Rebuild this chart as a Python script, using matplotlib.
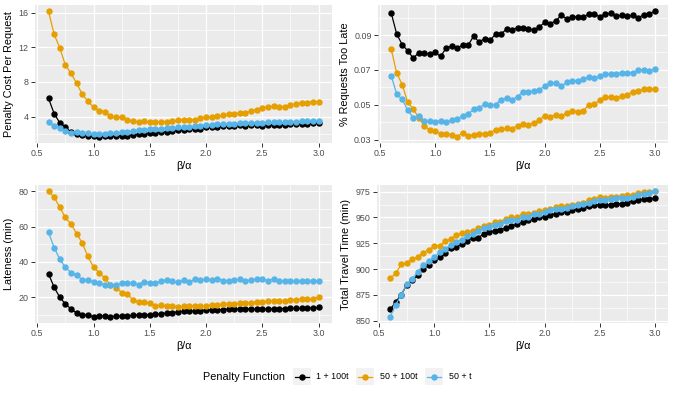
import numpy as np
import matplotlib
matplotlib.use("Agg")
import matplotlib.pyplot as plt
from matplotlib.lines import Line2D
from matplotlib.patches import Rectangle
from matplotlib.ticker import MultipleLocator, FixedLocator

plt.rcParams['font.family'] = ['Liberation Sans', 'DejaVu Sans']

ratio = [round(0.6 + 0.05 * i, 2) for i in range(49)]

series_names = ["1 + 100t", "50 + 100t", "50 + t"]
series_colors = ["#000000", "#E69F00", "#56B4E9"]

# Penalty Cost Per Request
penalty_black = [6.12, 4.35, 3.30, 2.84, 2.19, 1.95, 1.90, 1.80, 1.72, 1.68, 1.72, 1.72, 1.76, 1.80, 1.80,
                 1.88, 1.95, 2.03, 2.07, 2.11, 2.19, 2.26, 2.30, 2.42, 2.50, 2.53, 2.53, 2.61, 2.76, 2.80,
                 2.84, 2.88, 2.92, 2.96, 3.00, 2.96, 3.00, 3.03, 2.96, 3.03, 3.07, 3.07, 3.07, 3.11, 3.15,
                 3.11, 3.15, 3.22, 3.30]
penalty_orange = [16.16, 13.5, 11.95, 9.95, 8.98, 7.86, 6.59, 5.78, 5.08, 4.69, 4.58, 4.12, 3.92, 3.92, 3.58,
                  3.50, 3.38, 3.46, 3.38, 3.38, 3.42, 3.42, 3.46, 3.58, 3.61, 3.61, 3.65, 3.80, 3.96, 3.96,
                  4.08, 4.15, 4.27, 4.34, 4.38, 4.42, 4.66, 4.81, 5.04, 5.16, 5.19, 5.16, 5.16, 5.35, 5.50,
                  5.58, 5.62, 5.70, 5.74]
penalty_blue = [3.42, 2.88, 2.69, 2.38, 2.15, 2.19, 2.07, 2.07, 2.03, 2.03, 2.03, 2.07, 2.07, 2.19, 2.26,
                2.34, 2.46, 2.50, 2.53, 2.57, 2.61, 2.65, 2.69, 2.76, 2.80, 2.84, 2.88, 2.96, 3.03, 3.07,
                3.11, 3.11, 3.15, 3.19, 3.22, 3.26, 3.26, 3.30, 3.30, 3.34, 3.34, 3.34, 3.34, 3.38, 3.38,
                3.46, 3.46, 3.50, 3.54]

# % Requests Too Late
late_black = [0.1027, 0.0906, 0.0845, 0.0810, 0.0768, 0.0797, 0.0799, 0.0789, 0.0800, 0.0777, 0.0825, 0.0837,
              0.0827, 0.0841, 0.0841, 0.0893, 0.0860, 0.0879, 0.0871, 0.0904, 0.0904, 0.0935, 0.0931, 0.0942,
              0.0942, 0.0935, 0.0929, 0.0948, 0.0973, 0.0965, 0.0983, 0.1013, 0.0992, 0.1004, 0.1004, 0.1004,
              0.1021, 0.1019, 0.1004, 0.1021, 0.1025, 0.1010, 0.1013, 0.1008, 0.1012, 0.0998, 0.1017, 0.1021,
              0.1036]
late_orange = [0.0820, 0.0682, 0.0616, 0.0515, 0.0476, 0.0427, 0.0381, 0.0356, 0.0348, 0.0335, 0.0333, 0.0329,
               0.0317, 0.0340, 0.0321, 0.0329, 0.0335, 0.0333, 0.0338, 0.0358, 0.0360, 0.0365, 0.0363, 0.0381,
               0.0388, 0.0386, 0.0396, 0.0415, 0.0438, 0.0430, 0.0444, 0.0436, 0.0453, 0.0465, 0.0461, 0.0467,
               0.0500, 0.0502, 0.0530, 0.0547, 0.0547, 0.0540, 0.0549, 0.0559, 0.0574, 0.0580, 0.0588, 0.0593,
               0.0590]
late_blue = [0.0666, 0.0563, 0.0532, 0.0469, 0.0427, 0.0436, 0.0405, 0.0407, 0.0402, 0.0409, 0.0400, 0.0413,
             0.0417, 0.0438, 0.0446, 0.0475, 0.0482, 0.0503, 0.0499, 0.0501, 0.0530, 0.0538, 0.0530, 0.0547,
             0.0576, 0.0576, 0.0578, 0.0586, 0.0609, 0.0624, 0.0624, 0.0609, 0.0628, 0.0639, 0.0639, 0.0647,
             0.0662, 0.0651, 0.0666, 0.0678, 0.0678, 0.0678, 0.0682, 0.0682, 0.0683, 0.0697, 0.0701, 0.0693,
             0.0708]

# Lateness (min)
lateness_black = [33.3, 25.7, 20.0, 16.2, 13.4, 11.1, 10.1, 10.1, 9.0, 9.6, 9.2, 9.0, 9.4, 9.4, 9.2,
                  9.8, 10.1, 10.1, 10.2, 10.3, 10.7, 11.1, 11.3, 11.8, 12.0, 12.0, 12.4, 12.4, 12.6, 12.8,
                  13.0, 13.0, 13.4, 13.2, 13.2, 13.4, 13.4, 13.2, 13.2, 13.4, 13.4, 13.6, 13.6, 13.7, 13.7,
                  13.7, 13.9, 13.9, 14.3]
lateness_orange = [80.0, 76.7, 70.9, 65.2, 61.4, 56.1, 50.7, 43.1, 37.1, 33.9, 30.8, 27.2, 25.5, 22.7, 21.7,
                   18.7, 17.2, 17.3, 16.6, 15.1, 15.4, 15.3, 15.3, 14.5, 15.1, 15.1, 14.9, 15.1, 15.3, 15.5,
                   15.6, 16.0, 16.2, 16.3, 16.6, 17.0, 17.0, 17.3, 17.5, 17.7, 17.9, 17.9, 17.7, 18.3, 18.7,
                   19.0, 18.8, 19.0, 20.0]
lateness_blue = [56.8, 48.1, 41.6, 36.9, 34.0, 32.5, 29.9, 29.9, 28.7, 28.0, 27.0, 27.2, 27.0, 28.0, 28.3,
                 28.1, 27.2, 28.9, 28.3, 28.0, 29.1, 29.9, 29.1, 28.5, 29.7, 28.5, 30.2, 29.7, 30.2, 29.7,
                 30.6, 29.5, 29.5, 29.7, 30.2, 29.5, 29.7, 30.2, 30.4, 29.3, 30.4, 29.3, 29.3, 29.1, 29.3,
                 29.3, 29.1, 29.1, 29.5]

# Total Travel Time (min)
travel_black = [861.0, 868.2, 875.3, 884.7, 889.3, 893.8, 899.7, 904.2, 908.4, 911.4, 915.3, 920.5, 921.1,
                924.4, 927.6, 930.2, 930.5, 934.1, 935.7, 937.3, 938.3, 939.6, 941.9, 943.2, 945.8, 947.7,
                948.4, 950.0, 950.3, 952.3, 953.6, 954.9, 955.2, 956.8, 957.8, 959.4, 960.7, 962.0, 962.3,
                962.3, 962.0, 963.3, 963.3, 964.3, 965.9, 967.2, 967.5, 967.9, 968.5]
travel_orange = [891.2, 895.8, 904.5, 906.2, 909.7, 912.0, 915.9, 918.8, 922.1, 922.7, 927.3, 928.9, 933.1,
                 935.0, 935.7, 937.0, 939.3, 941.6, 942.9, 945.1, 945.8, 948.7, 950.0, 950.3, 952.9, 952.9,
                 954.5, 955.8, 956.8, 958.4, 959.7, 960.7, 961.4, 962.3, 963.3, 964.3, 966.6, 967.5, 970.1,
                 969.2, 970.1, 970.1, 970.8, 971.4, 972.1, 973.4, 974.4, 974.7, 975.3]
travel_blue = [853.9, 865.6, 875.3, 885.4, 890.6, 897.4, 904.2, 907.5, 912.0, 916.2, 919.5, 923.7, 926.3,
               928.6, 931.8, 933.8, 937.0, 939.3, 940.9, 942.5, 943.5, 946.1, 947.1, 947.7, 950.0, 950.6,
               952.9, 953.6, 955.2, 956.8, 957.8, 958.4, 959.4, 960.7, 961.7, 962.7, 964.3, 965.6, 966.9,
               966.9, 967.9, 968.5, 968.8, 969.2, 970.1, 971.7, 973.0, 973.7, 975.3]

panels = [
    ("Penalty Cost Per Request", [penalty_black, penalty_orange, penalty_blue], [4, 8, 12, 16], "{:.0f}"),
    ("% Requests Too Late", [late_black, late_orange, late_blue], [0.03, 0.05, 0.07, 0.09], "{:.2f}"),
    ("Lateness (min)", [lateness_black, lateness_orange, lateness_blue], [20, 40, 60, 80], "{:.0f}"),
    ("Total Travel Time (min)", [travel_black, travel_orange, travel_blue], [850, 875, 900, 925, 950, 975], "{:.0f}"),
]

W, H = 675, 394
fig = plt.figure(figsize=(W / 100, H / 100), dpi=100)

# pixel boxes: left, right, top, bottom
boxes = [(35, 332, 5, 143), (378, 668, 5, 143), (35, 332, 185, 323), (377, 668, 185, 323)]

x_ticks = [0.5, 1.0, 1.5, 2.0, 2.5, 3.0]
bg = "#EBEBEB"

for (ylabel, ys, yticks, fmt), (l, r, t, b) in zip(panels, boxes):
    ax = fig.add_axes([l / W, 1 - b / H, (r - l) / W, (b - t) / H])
    ax.set_facecolor(bg)
    for s in ax.spines.values():
        s.set_visible(False)
    for vals, col in zip(ys, series_colors):
        ax.plot(ratio, vals, color=col, lw=0.9, marker="o", ms=3.6, mec=col, mfc=col, zorder=3)
    xr = max(ratio) - min(ratio)
    ax.set_xlim(min(ratio) - 0.05 * xr, max(ratio) + 0.05 * xr)
    allv = [v for s in ys for v in s]
    yr = max(allv) - min(allv)
    ax.set_ylim(min(allv) - 0.05 * yr, max(allv) + 0.05 * yr)
    ax.xaxis.set_major_locator(FixedLocator(x_ticks))
    ax.set_xticklabels([f"{v:.1f}" for v in x_ticks])
    ax.yaxis.set_major_locator(FixedLocator(yticks))
    ax.set_yticklabels([fmt.format(v) for v in yticks])
    step = yticks[1] - yticks[0]
    minor_y = [yticks[0] - step / 2] + [v + step / 2 for v in yticks]
    ax.yaxis.set_minor_locator(FixedLocator(minor_y))
    ax.xaxis.set_minor_locator(FixedLocator([v + 0.25 for v in [0.0] + x_ticks]))
    ax.grid(which="major", color="white", lw=0.9)
    ax.grid(which="minor", color="white", lw=0.45)
    ax.set_axisbelow(True)
    ax.tick_params(which="major", length=2.8, width=0.7, color="#333333", labelcolor="#4D4D4D",
                   labelsize=6.4, pad=1.8)
    ax.tick_params(which="minor", length=0)
    ax.set_ylabel(ylabel, fontsize=7.8, color="black", labelpad=3)
    ax.set_xlabel("β/α", fontsize=7.8, color="black", labelpad=2)

# Legend drawn at bottom
ly = 376.5
fig.text(203 / W, 1 - ly / H, "Penalty Function", fontsize=7.8, va="center", ha="left")
key_lefts = [293, 356, 425]
text_lefts = [316.5, 380, 449]
ks = 17.5
for kl, tl, name, col in zip(key_lefts, text_lefts, series_names, series_colors):
    rect = Rectangle((kl / W, 1 - (ly + ks / 2) / H), ks / W, ks / H, transform=fig.transFigure,
                     facecolor="#F2F2F2", edgecolor="none")
    fig.add_artist(rect)
    ln = Line2D([(kl + 1.5) / W, (kl + ks - 1.5) / W], [1 - ly / H, 1 - ly / H], transform=fig.transFigure,
                color=col, lw=0.9)
    fig.add_artist(ln)
    mk = Line2D([(kl + ks / 2) / W], [1 - ly / H], transform=fig.transFigure, color=col, marker="o",
                ms=3.6, lw=0)
    fig.add_artist(mk)
    fig.text(tl / W, 1 - ly / H, name, fontsize=6.4, va="center", ha="left")

fig.savefig("out.png", dpi=100)
